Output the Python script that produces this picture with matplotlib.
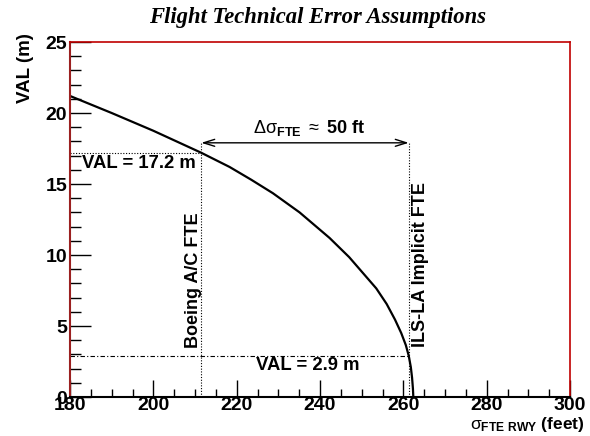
import matplotlib
matplotlib.use("Agg")
import matplotlib.pyplot as plt
from matplotlib.ticker import MultipleLocator

plt.rcParams['mathtext.fontset'] = 'custom'
plt.rcParams['mathtext.rm'] = 'Liberation Sans'
plt.rcParams['mathtext.bf'] = 'Liberation Sans:bold'
plt.rcParams['mathtext.it'] = 'Liberation Sans:italic'
plt.rcParams['font.family'] = ['Liberation Sans', 'DejaVu Sans']

# Curve data (sigma_FTE RWY in feet, VAL in m)
sigma_ft = [180, 190, 200, 211.5, 218.3, 223.5, 228.7, 235.1, 242.3, 247.0, 250.25, 253.5,
            256.0, 258.0, 259.5, 260.6, 261.3, 261.8, 262.1, 262.3, 262.4]
val_m = [21.2, 20.0, 18.75, 17.2, 16.2, 15.3, 14.35, 13.0, 11.2, 9.85, 8.75, 7.65,
         6.55, 5.45, 4.5, 3.65, 2.9, 2.1, 1.35, 0.6, 0.0]

boeing_sigma = 211.5
boeing_val = 17.2
ils_sigma = 261.3
ils_val = 2.9
arrow_val = 17.9

xticks = [180, 200, 220, 240, 260, 280, 300]
yticks = [0, 5, 10, 15, 20, 25]

fig = plt.figure(figsize=(5.9, 4.36), dpi=100)
ax = fig.add_axes([70/590, 39/436, 500/590, 355/436])

ax.plot(sigma_ft, val_m, color='black', lw=1.6, solid_joinstyle='round')

# reference lines
ax.plot([180, boeing_sigma], [boeing_val, boeing_val], color='black', lw=0.8, ls=(0, (1, 1.5)))
ax.plot([boeing_sigma, boeing_sigma], [0, arrow_val], color='black', lw=0.8, ls=(0, (1, 1.5)))
ax.plot([ils_sigma, ils_sigma], [0, arrow_val], color='black', lw=0.8, ls=(0, (1, 1.5)))
ax.plot([180, ils_sigma], [ils_val, ils_val], color='black', lw=0.8, ls=(0, (4, 2, 1, 2)))

ax.annotate('', xy=(boeing_sigma, arrow_val), xytext=(ils_sigma, arrow_val),
            arrowprops=dict(arrowstyle='<->,head_length=0.8,head_width=0.25', color='black', lw=1.0,
                            shrinkA=0, shrinkB=0))

ax.text(237.4, 18.6, r'$\mathrm{\Delta\sigma}_{\mathbf{FTE}}\ \approx\ \mathbf{50\ ft}$',
        ha='center', va='baseline', fontsize=13)
ax.text(182.9, 16.45, 'VAL = 17.2 m', ha='left', va='center', fontsize=13.3, fontweight='bold')
ax.text(237.0, 2.2, 'VAL = 2.9 m', ha='center', va='center', fontsize=13.3, fontweight='bold')
ax.text(209.6, 8.2, 'Boeing A/C FTE', rotation=90, ha='center', va='center', fontsize=13, fontweight='bold')
ax.text(264.2, 9.3, 'ILS-LA Implicit FTE', rotation=90, ha='center', va='center', fontsize=13, fontweight='bold')

ax.set_xlim(180, 300)
ax.set_ylim(0, 25)
ax.set_xticks(xticks)
ax.set_yticks(yticks)
ax.xaxis.set_minor_locator(MultipleLocator(5))
ax.yaxis.set_minor_locator(MultipleLocator(1))
ax.tick_params(axis='x', which='major', direction='in', length=12, width=1, pad=0, labelsize=14)
ax.tick_params(axis='x', which='minor', direction='in', length=6, width=1)
ax.tick_params(axis='y', which='major', direction='in', length=15, width=1, pad=2, labelsize=14)
ax.tick_params(axis='y', which='minor', direction='in', length=8, width=1)
for lab in ax.get_xticklabels() + ax.get_yticklabels():
    lab.set_fontweight('bold')

for s in ['top', 'right']:
    ax.spines[s].set_color('#c00000')
    ax.spines[s].set_linewidth(1.2)
ax.spines['left'].set_color('#9b2020')
ax.spines['left'].set_linewidth(1.5)
ax.spines['bottom'].set_color('black')
ax.spines['bottom'].set_linewidth(1.5)

fig.text(318/590, 1 - 18/436, 'Flight Technical Error Assumptions', ha='center', va='center',
         fontsize=16.3, fontweight='bold', fontstyle='italic', family='Liberation Serif')
fig.text(25/590, 1 - 68/436, 'VAL (m)', rotation=90, ha='center', va='center',
         fontsize=13.5, fontweight='bold')
fig.text(585/590, 2/436, r'$\mathrm{\sigma}_{\mathbf{FTE\ RWY}}$' + ' (feet)', ha='right', va='bottom',
         fontsize=12.5, fontweight='bold')

fig.savefig('out.png', dpi=100)
